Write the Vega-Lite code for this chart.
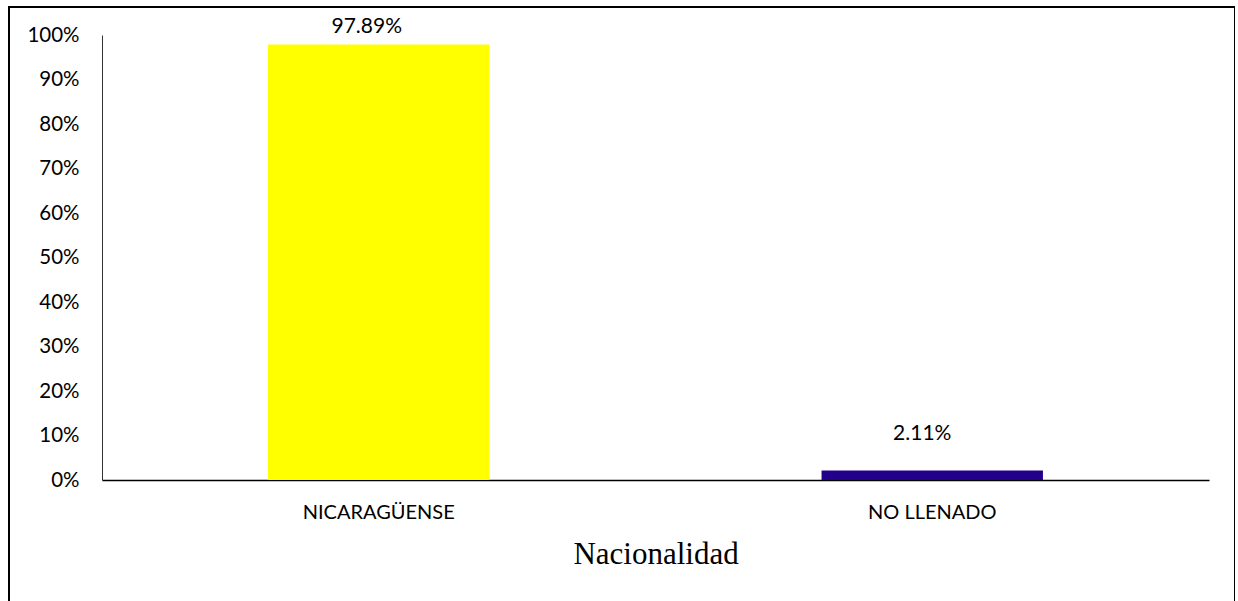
{
  "$schema": "https://vega.github.io/schema/vega-lite/v6.json",
  "width": 1226,
  "height": 600,
  "padding": {"left": 9, "top": 7, "right": 0, "bottom": 0},
  "background": "white",
  "config": {
    "view": {"stroke": "black", "strokeWidth": 2},
    "font": "Lato"
  },
  "data": {
    "values": [
      {"nacionalidad": "NICARAGÜENSE", "porcentaje": 0.9789},
      {"nacionalidad": "NO LLENADO", "porcentaje": 0.0211}
    ]
  },
  "encoding": {
    "x": {
      "field": "nacionalidad",
      "type": "nominal",
      "sort": null,
      "scale": {"range": [93, 1200], "paddingInner": 0.6, "paddingOuter": 0.3},
      "axis": {
        "title": "Nacionalidad",
        "titleFont": "Liberation Serif",
        "titleFontSize": 31,
        "titleFontWeight": "normal",
        "titleColor": "black",
        "titlePadding": 17,
        "labelAngle": 0,
        "labelFontSize": 20,
        "labelColor": "black",
        "labelPadding": 22,
        "ticks": false,
        "domainColor": "black",
        "domainWidth": 1.5,
        "offset": -127
      }
    },
    "y": {
      "field": "porcentaje",
      "type": "quantitative",
      "scale": {"domain": [0, 1], "range": [473, 28], "nice": false},
      "axis": {
        "title": null,
        "format": ".0%",
        "values": [0, 0.1, 0.2, 0.3, 0.4, 0.5, 0.6, 0.7, 0.8, 0.9, 1],
        "labelFontSize": 20.5,
        "labelColor": "black",
        "labelPadding": 23,
        "ticks": false,
        "grid": false,
        "domainColor": "#333333",
        "domainWidth": 1,
        "offset": -93
      }
    }
  },
  "layer": [
    {
      "mark": {"type": "bar"},
      "encoding": {
        "color": {
          "field": "nacionalidad",
          "type": "nominal",
          "scale": {"domain": ["NICARAGÜENSE", "NO LLENADO"], "range": ["#FFFF00", "#22008C"]},
          "legend": null
        }
      }
    },
    {
      "transform": [{"filter": "datum.nacionalidad === 'NICARAGÜENSE'"}],
      "mark": {"type": "text", "baseline": "middle", "dy": -17, "dx": -12, "fontSize": 21, "color": "black"},
      "encoding": {"text": {"field": "porcentaje", "type": "quantitative", "format": ".2%"}}
    },
    {
      "transform": [{"filter": "datum.nacionalidad === 'NO LLENADO'"}],
      "mark": {"type": "text", "baseline": "middle", "dy": -37, "dx": -10, "fontSize": 21, "color": "black"},
      "encoding": {"text": {"field": "porcentaje", "type": "quantitative", "format": ".2%"}}
    }
  ]
}
